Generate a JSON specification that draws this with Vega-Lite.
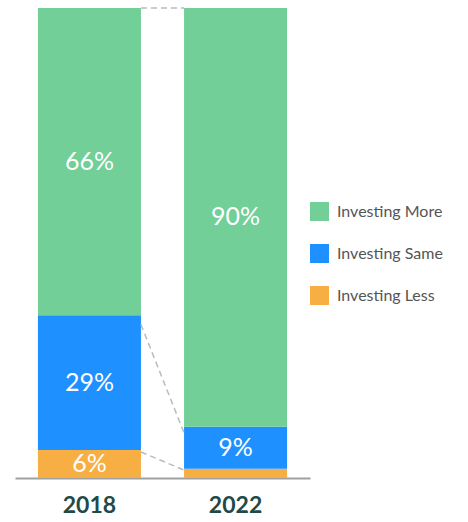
{
  "$schema": "https://vega.github.io/schema/vega-lite/v6.json",
  "width": 295,
  "height": 470,
  "autosize": {"type": "none"},
  "padding": {"left": 15, "top": 8, "right": 158, "bottom": 44},
  "background": "white",
  "config": {"view": {"stroke": null}, "font": "Lato"},
  "layer": [
    {
      "data": {"values": [
        {"year": "2018", "category": "Investing Less", "pct": 6},
        {"year": "2018", "category": "Investing Same", "pct": 29},
        {"year": "2018", "category": "Investing More", "pct": 66},
        {"year": "2022", "category": "Investing Less", "pct": 2},
        {"year": "2022", "category": "Investing Same", "pct": 9},
        {"year": "2022", "category": "Investing More", "pct": 90}
      ]},
      "transform": [
        {"calculate": "indexof(['Investing Less','Investing Same','Investing More'], datum.category)", "as": "ord"},
        {"stack": "pct", "groupby": ["year"], "sort": [{"field": "ord", "order": "ascending"}], "as": ["y0", "y1"]},
        {"calculate": "(datum.y0 + datum.y1) / 2", "as": "mid"},
        {"calculate": "datum.pct + '%'", "as": "label"}
      ],
      "layer": [
        {
          "mark": {"type": "bar"},
          "encoding": {
            "x": {"field": "year", "type": "nominal"},
            "y": {"field": "y1", "type": "quantitative"},
            "y2": {"field": "y0"},
            "color": {
              "field": "category", "type": "nominal",
              "scale": {"domain": ["Investing More", "Investing Same", "Investing Less"], "range": ["#72CF98", "#1E90FF", "#F7AE42"]},
              "legend": {
                "title": null, "orient": "none", "legendX": 295, "legendY": 194,
                "symbolType": "square", "symbolSize": 361, "symbolStrokeWidth": 0, "symbolOpacity": 1,
                "labelFont": "Lato", "labelFontSize": 16, "labelColor": "#555555", "labelOffset": 8,
                "rowPadding": 23, "padding": 0
              }
            }
          }
        },
        {
          "transform": [{"filter": "datum.pct >= 5"}],
          "mark": {"type": "text", "color": "white", "fontSize": 25, "font": "Lato", "fontWeight": "normal", "baseline": "middle"},
          "encoding": {
            "x": {"field": "year", "type": "nominal"},
            "y": {"field": "mid", "type": "quantitative"},
            "text": {"field": "label", "type": "nominal"}
          }
        }
      ]
    },
    {
      "data": {"values": [
        {"from": "2018", "to": "2022", "start": 101, "end": 101},
        {"from": "2018", "to": "2022", "start": 33, "end": 9.7},
        {"from": "2018", "to": "2022", "start": 5.6, "end": 1.7}
      ]},
      "mark": {"type": "rule", "color": "#BBBBBB", "strokeWidth": 1.5, "strokeDash": [6, 4]},
      "encoding": {
        "x": {"field": "from", "type": "nominal", "bandPosition": 1},
        "x2": {"field": "to", "bandPosition": 0},
        "y": {"field": "start", "type": "quantitative"},
        "y2": {"field": "end"}
      }
    }
  ],
  "resolve": {"scale": {"x": "shared", "y": "shared"}},
  "encoding": {
    "x": {
      "type": "nominal",
      "scale": {"paddingInner": 0.295, "paddingOuter": 0.157},
      "axis": {
        "title": null, "labelAngle": 0, "ticks": false, "grid": false,
        "domainColor": "#A0A0A0", "domainWidth": 2,
        "labelFont": "Lato", "labelFontSize": 23, "labelFontWeight": "bold", "labelColor": "#1F4A48",
        "labelPadding": 16
      }
    },
    "y": {
      "type": "quantitative",
      "scale": {"domain": [0, 101], "nice": false, "zero": true},
      "axis": null
    }
  }
}
